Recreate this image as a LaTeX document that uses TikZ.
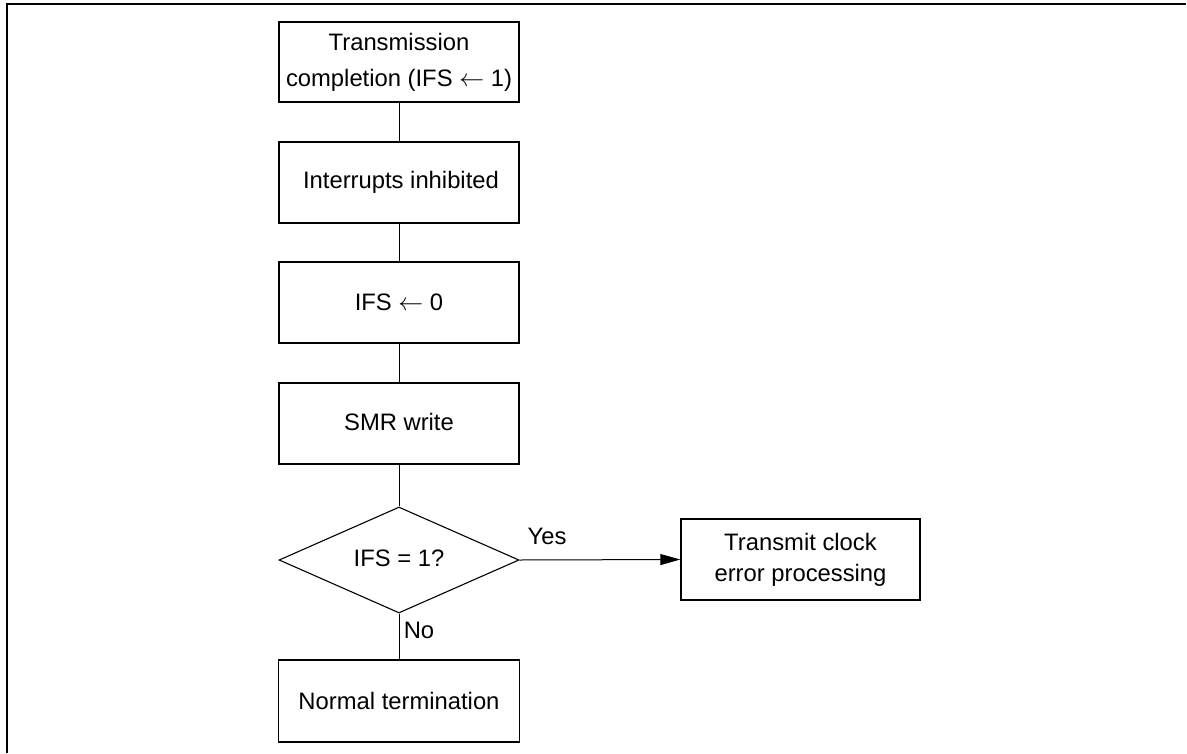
\documentclass[tikz,border=0pt]{standalone}
\usepackage{fontspec}
\setmainfont{Liberation Sans}
\usetikzlibrary{arrows.meta,shapes.geometric}
\begin{document}
\begin{tikzpicture}[x=1pt,y=-1pt,
  procbox/.style={draw, line width=1.3pt, minimum width=240pt, minimum height=80pt, inner sep=0pt, align=center, font=\fontsize{23.8}{36}\selectfont},
  decbox/.style={draw, diamond, aspect=2.3, line width=1.1pt, minimum width=240pt, minimum height=106pt, inner sep=0pt, font=\fontsize{23.8}{28}\selectfont},
  link/.style={line width=1pt},
  lbl/.style={font=\fontsize{23.8}{28}\selectfont, inner sep=0pt}]
\useasboundingbox (0,0) rectangle (1187,753);
\draw[line width=1.8pt] (7,753) -- (7,4) -- (1186,4);
\node[procbox] (b1) at (399,62) {Transmission\\completion (IFS $\leftarrow$ 1)};
\node[procbox, minimum height=81pt] (b2) at (399,182.5) {\raisebox{-3pt}{\hspace*{4pt}Interrupts inhibited}};
\node[procbox, minimum height=81pt] (b3) at (399,302.5) {IFS $\leftarrow$ 0};
\node[procbox, minimum height=81pt] (b4) at (399,423.5) {\raisebox{3pt}{SMR write}};
\node[decbox] (d) at (399,560) {\raisebox{3pt}{IFS = 1?}};
\node[procbox, minimum width=241pt, minimum height=82pt] (b5) at (399,701) {Normal termination};
\node[procbox, minimum width=239pt, minimum height=81pt, font=\fontsize{23.8}{31}\selectfont] (b6) at (800.5,559.5) {Transmit clock\\error processing};
\draw[link] (b1) -- (b2);
\draw[link] (b2) -- (b3);
\draw[link] (b3) -- (b4);
\draw[link] (b4) -- (d);
\draw[link] (d) -- (b5);
\draw[link, -{Triangle[length=20pt,width=11pt]}] (d.east) -- (b6.west);
\node[lbl] (yes) at (547,536) {Yes};
\node[lbl] (no) at (419,630) {No};
\end{tikzpicture}
\end{document}
